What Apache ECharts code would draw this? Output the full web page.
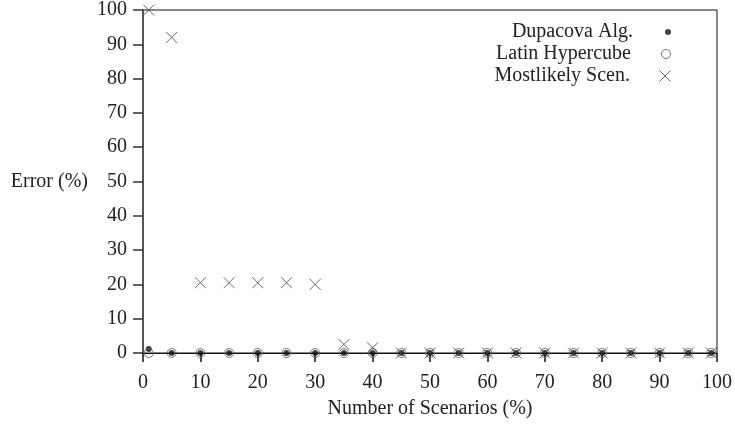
<!DOCTYPE html>
<html>
<head>
<meta charset="utf-8">
<script src="https://cdn.jsdelivr.net/npm/echarts@6/dist/echarts.min.js"></script>
<style>
  html, body { margin: 0; padding: 0; background: #fff; }
  #chart { width: 735px; height: 424px; }
</style>
</head>
<body>
<div id="chart"></div>
<script>
  // scenario share (%) on the x axis
  var scenarios = [1, 5, 10, 15, 20, 25, 30, 35, 40, 45, 50, 55, 60, 65, 70, 75, 80, 85, 90, 95, 99];
  // error (%)
  var dupacova = [1.2, 0, 0, 0, 0, 0, 0, 0, 0, 0, 0, 0, 0, 0, 0, 0, 0, 0, 0, 0, 0];
  var latinHypercube = [0, 0, 0, 0, 0, 0, 0, 0, 0, 0, 0, 0, 0, 0, 0, 0, 0, 0, 0, 0, 0];
  var mostLikely = [100, 92, 20.5, 20.5, 20.5, 20.5, 20, 2.5, 1.5, 0, 0, 0, 0, 0, 0, 0, 0, 0, 0, 0, 0];

  var seriesNames = ['Dupacova Alg.', 'Latin Hypercube', 'Mostlikely Scen.'];

  function pairs(ys) {
    return scenarios.map(function (x, i) { return [x, ys[i]]; });
  }

  var font = 'Liberation Serif';
  var cross = 'path://M0,0L10,10M10,0L0,10';

  var styles = [
    { symbol: 'circle', size: 6, itemStyle: { color: '#111', borderWidth: 0 } },
    { symbol: 'circle', size: 9, itemStyle: { color: 'rgba(0,0,0,0)', borderColor: '#555', borderWidth: 1 } },
    { symbol: cross, size: 11, itemStyle: { color: 'rgba(0,0,0,0)', borderColor: '#444', borderWidth: 1 } }
  ];
  var values = [dupacova, latinHypercube, mostLikely];
  var legendTops = [16, 38, 60];

  var option = {
    animation: false,
    grid: { left: 143, right: 18, top: 9, bottom: 71, show: true, borderColor: '#111', borderWidth: 1 },
    legend: seriesNames.map(function (name, i) {
      return {
        data: [{ name: name, icon: styles[i].symbol, itemStyle: styles[i].itemStyle }],
        orient: 'vertical',
        align: 'right',
        right: 59,
        top: legendTops[i],
        itemWidth: 60,
        itemHeight: styles[i].size,
        selectedMode: false,
        textStyle: { fontFamily: font, fontSize: 20, color: '#222', lineHeight: 22 }
      };
    }),
    xAxis: {
      type: 'value',
      min: 0,
      max: 100,
      interval: 10,
      name: 'Number of Scenarios (%)',
      nameLocation: 'middle',
      nameGap: 46,
      nameTextStyle: { fontFamily: font, fontSize: 20, color: '#222' },
      axisLine: { show: true, lineStyle: { color: '#111', width: 1 } },
      axisTick: { show: true, length: 9, lineStyle: { color: '#111', width: 1.5 } },
      axisLabel: { fontFamily: font, fontSize: 20, color: '#222', margin: 20 },
      splitLine: { show: false }
    },
    yAxis: {
      type: 'value',
      min: 0,
      max: 100,
      interval: 10,
      name: 'Error (%)',
      nameLocation: 'middle',
      nameRotate: 0,
      nameGap: 55,
      nameTextStyle: { fontFamily: font, fontSize: 20, color: '#222' },
      axisLine: { show: true, lineStyle: { color: '#555', width: 2 } },
      axisTick: { show: true, length: 10, lineStyle: { color: '#333', width: 1.5 } },
      axisLabel: { fontFamily: font, fontSize: 20, color: '#222', margin: 16 },
      splitLine: { show: false }
    },
    series: seriesNames.map(function (name, i) {
      return {
        name: name,
        type: 'scatter',
        symbol: styles[i].symbol,
        symbolSize: styles[i].size,
        itemStyle: styles[i].itemStyle,
        data: pairs(values[i])
      };
    })
  };

  var chart = echarts.init(document.getElementById('chart'), null, { renderer: 'canvas' });
  chart.setOption(option);
</script>
</body>
</html>
